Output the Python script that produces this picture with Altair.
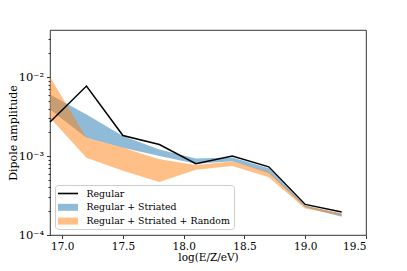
import altair as alt
import pandas as pd

# ---- data ----
energy = [16.9, 17.2, 17.5, 17.8, 18.1, 18.4, 18.7, 19.0, 19.3]
regular = [2.7e-3, 7.7e-3, 1.82e-3, 1.40e-3, 8.0e-4, 1.0e-3, 7.3e-4, 2.44e-4, 1.95e-4]
striated_lo = [3.9e-3, 1.7e-3, 1.27e-3, 1.0e-3, 8.0e-4, 8.6e-4, 6.1e-4, 2.25e-4, 1.70e-4]
striated_hi = [6.0e-3, 3.37e-3, 1.79e-3, 1.21e-3, 9.3e-4, 9.6e-4, 7.0e-4, 2.37e-4, 1.86e-4]
random_lo = [3.05e-3, 9.5e-4, 6.5e-4, 4.7e-4, 6.7e-4, 7.5e-4, 5.4e-4, 2.16e-4, 1.76e-4]
random_hi = [1.0e-2, 1.7e-3, 1.27e-3, 9.1e-4, 7.7e-4, 8.5e-4, 6.3e-4, 2.33e-4, 1.87e-4]

series_names = ["Regular", "Regular + Striated", "Regular + Striated + Random"]
x_ticks = [17.0, 17.5, 18.0, 18.5, 19.0, 19.5]
y_major = [1e-4, 1e-3, 1e-2]
y_minor = [k * 1e-4 for k in range(2, 10)] + [k * 1e-3 for k in range(2, 10)] + [2e-2, 3e-2]

df = pd.DataFrame({
    "energy": energy,
    "regular": regular,
    "s_lo": striated_lo,
    "s_hi": striated_hi,
    "r_lo": random_lo,
    "r_hi": random_hi,
})
legend_df = pd.DataFrame({"series": series_names})

FONT = "DejaVu Serif"
XDOM = [16.9, 19.5]
YDOM = [1e-4, 0.0395]

major_test = "indexof([0.0001, 0.001, 0.01], datum.value) >= 0"
label_expr = ("datum.value == 0.01 ? '10\u207b\u00b2' : datum.value == 0.001 ? '10\u207b\u00b3' : "
              "datum.value == 0.0001 ? '10\u207b\u2074' : ''")

xenc = alt.X("energy:Q", scale=alt.Scale(domain=XDOM, nice=False, zero=False),
             axis=alt.Axis(values=x_ticks, format=".1f", title="log(E/Z/eV)", grid=False,
                           domain=False, tickSize=3.5, tickColor="#000", labelPadding=2.5,
                           labelFontSize=10.5, titleFontSize=10.5, titleY=17,
                           titleBaseline="top"))
yaxis = alt.Axis(values=y_major + y_minor, labelExpr=label_expr, title="Dipole amplitude",
                 grid=False, domain=False, tickColor="#000", labelFontSize=11.5,
                 tickSize={"condition": {"test": major_test, "value": 3.5}, "value": 2},
                 labelPadding=3, titleFontSize=11, titleX=-37, titleBaseline="middle")
yscale = alt.Scale(type="log", domain=YDOM, nice=False)

base = alt.Chart(df)

blue = base.mark_area(color="#1f77b4", opacity=0.5).encode(
    x=xenc,
    y=alt.Y("s_lo:Q", scale=yscale, axis=yaxis),
    y2="s_hi:Q",
)
orange = base.mark_area(color="#ff7f0e", opacity=0.5).encode(
    x="energy:Q",
    y=alt.Y("r_lo:Q"),
    y2="r_hi:Q",
)
line = base.mark_line(color="black", strokeWidth=1.5).encode(
    x="energy:Q",
    y=alt.Y("regular:Q"),
)

shape_paths = ["M-2,-0.16H2V0.16H-2Z", "M-2,-0.7H2V0.7H-2Z", "M-2,-0.7H2V0.7H-2Z"]
legend_layer = alt.Chart(legend_df).transform_filter("false").mark_point(
    filled=True, opacity=1, size=100
).encode(
    color=alt.Color("series:N",
                    scale=alt.Scale(domain=series_names, range=["#000000", "#8fbbd9", "#ffbf86"]),
                    legend=alt.Legend(title=None, orient="none", legendX=5, legendY=155,
                                      symbolOpacity=1, symbolSize=100, symbolStrokeWidth=0,
                                      labelOffset=13.5, symbolOffset=4.5, padding=3.5,
                                      rowPadding=3.8, fillColor="white", strokeColor="#cccccc",
                                      cornerRadius=3, labelFont=FONT, labelFontSize=9.4,
                                      labelColor="#000")),
    shape=alt.Shape("series:N", scale=alt.Scale(domain=series_names, range=shape_paths),
                    legend=alt.Legend(title=None)),
)

chart = alt.layer(blue, orange, line, legend_layer).properties(
    width=316, height=205,
    autosize=alt.AutoSizeParams(type="none"),
    padding={"left": 42, "top": 22, "right": 25, "bottom": 28},
).configure_view(
    stroke="#000", strokeWidth=0.8
).configure_axis(
    labelFont=FONT, titleFont=FONT, labelFontSize=10, titleFontSize=10,
    labelColor="#000", titleColor="#000", titleFontWeight="normal", tickWidth=0.8,
)

chart.save("out.html", embed_options={"renderer": "svg", "actions": False})
